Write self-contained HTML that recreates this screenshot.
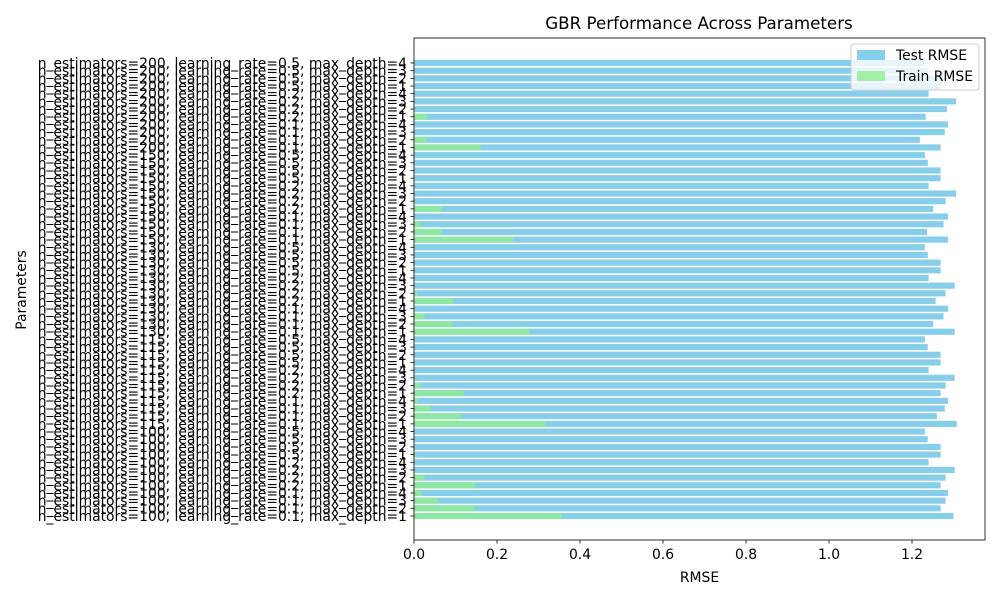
<!DOCTYPE html>
<html><head><meta charset="utf-8"><style>
body{margin:0;background:#fff}
svg text{font-family:"DejaVu Sans","Liberation Sans",sans-serif;fill:#000}
</style></head><body>
<svg id="chart" width="1000" height="600"></svg>
<script>
const nEst=[100,115,130,150,200];
const lrs=[0.1,0.2,0.5];
const depths=[1,2,3,4];
const testRmse=[1.300,1.269,1.281,1.287,1.269,1.281,1.303,1.240,1.269,1.269,1.238,1.231,
1.308,1.260,1.279,1.287,1.269,1.281,1.303,1.240,1.269,1.269,1.238,1.231,
1.303,1.251,1.276,1.287,1.257,1.281,1.303,1.240,1.269,1.269,1.238,1.231,
1.287,1.236,1.276,1.287,1.251,1.281,1.306,1.240,1.269,1.269,1.238,1.231,
1.269,1.219,1.279,1.287,1.233,1.284,1.306,1.240,1.269,1.269,1.238,1.231];
const trainRmse=[0.356,0.146,0.056,0.0175,0.148,0.025,0.001,0.001,0.005,0.001,0.001,0.001,
0.316,0.113,0.040,0.010,0.119,0.016,0.001,0.001,0.001,0.001,0.001,0.001,
0.279,0.093,0.025,0.003,0.095,0.008,0.001,0.001,0.001,0.001,0.001,0.001,
0.239,0.067,0.016,0.001,0.067,0.001,0.001,0.001,0.001,0.001,0.001,0.001,
0.161,0.030,0.001,0.001,0.032,0.001,0.001,0.001,0.001,0.001,0.001,0.001];
const xTicks=[0,0.2,0.4,0.6,0.8,1.0,1.2];
const labels=[];
nEst.forEach(n=>lrs.forEach(l=>depths.forEach(d=>labels.push(`n_estimators=${n}, learning_rate=${l}, max_depth=${d}`))));

const NS="http://www.w3.org/2000/svg";
const svg=document.getElementById('chart');
const L=414,R=985,T=38,B=540;
const x=v=>L+v*415;
const n=labels.length;
const step=(516-63)/(n-1);
const y=i=>516-i*step;
const bh=step*0.8;
function mk(tag,attrs,parent){const e=document.createElementNS(NS,tag);for(const k in attrs)e.setAttribute(k,attrs[k]);(parent||svg).appendChild(e);return e;}

const title=mk('text',{x:699,y:29,'text-anchor':'middle','font-size':16.7});
title.textContent='GBR Performance Across Parameters';



for(let i=0;i<n;i++){
  const b=mk('rect',{x:L,y:y(i)-bh/2,width:x(testRmse[i])-L,height:bh,fill:'#87ceeb'});
  
  
}
for(let i=0;i<n;i++){
  const b=mk('rect',{x:L,y:y(i)-bh/2,width:x(trainRmse[i])-L,height:bh,fill:'#90ee90',opacity:0.8});
  
  
}
for(let i=0;i<n;i++){
  mk('line',{x1:L-3.5,x2:L,y1:y(i),y2:y(i),stroke:'#000','stroke-width':0.8});
  const t=mk('text',{x:L-7,y:y(i)+5,'text-anchor':'end','font-size':13.9});
  t.textContent=labels[i];
  
  
}
xTicks.forEach(v=>{
  mk('line',{x1:x(v),x2:x(v),y1:B,y2:B+3.5,stroke:'#000','stroke-width':0.8});
  const t=mk('text',{x:x(v),y:B+19,'text-anchor':'middle','font-size':13.9});
  t.textContent=v.toFixed(1);
  
  
});
const frame=mk('rect',{x:L,y:T,width:R-L,height:B-T,fill:'none',stroke:'#000','stroke-width':0.8});



const xl=mk('text',{x:(L+R)/2,y:582,'text-anchor':'middle','font-size':13.9});
xl.textContent='RMSE';


const yl=mk('text',{x:0,y:0,'text-anchor':'middle','font-size':13.9,transform:'translate(26,290) rotate(-90)'});
yl.textContent='Parameters';



const lg=mk('g',{});


mk('rect',{x:851,y:44,width:128,height:46,rx:3,fill:'#fff','fill-opacity':0.8,stroke:'#ccc'},lg);
mk('rect',{x:857,y:50,width:28,height:10,fill:'#87ceeb'},lg);
mk('rect',{x:857,y:71,width:28,height:10,fill:'#90ee90',opacity:0.8},lg);
const l1=mk('text',{x:896,y:60,'font-size':13.9},lg);l1.textContent='Test RMSE';


const l2=mk('text',{x:896,y:81,'font-size':13.9},lg);l2.textContent='Train RMSE';


</script>
</body></html>
